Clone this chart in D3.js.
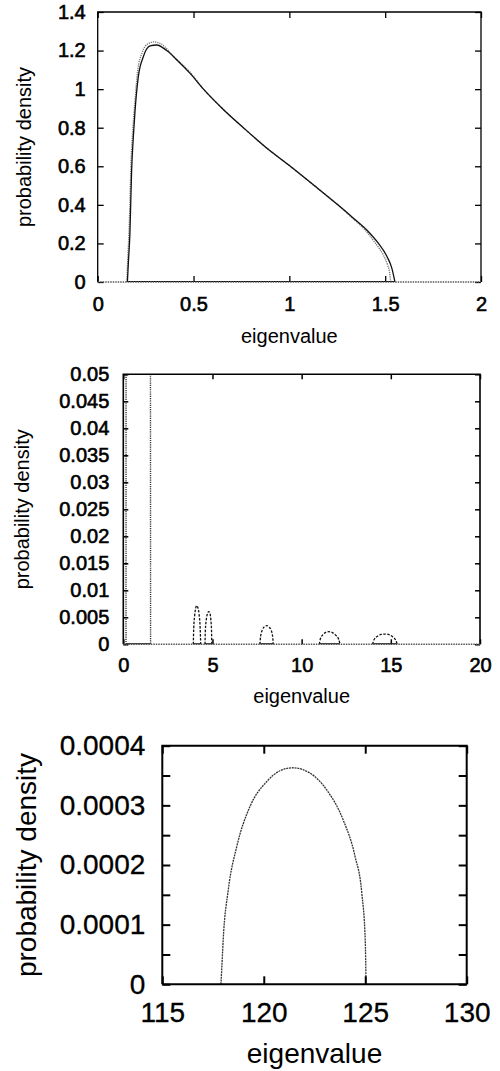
<!DOCTYPE html>
<html>
<head>
<meta charset="utf-8">
<script src="https://cdn.jsdelivr.net/npm/d3@7"></script>
<style>
  body { margin: 0; background: #fff; }
  svg { display: block; }
  text { font-family: "Liberation Sans", Arial, Helvetica, sans-serif; fill: #000; }
</style>
</head>
<body>
<svg id="chart" width="500" height="1071"></svg>
<script>
// ---- data ----
// panel 1: bulk density, two curves (solid + dotted)
const bulkX = [0.155, 0.16, 0.168, 0.177, 0.186, 0.195, 0.212, 0.238, 0.273, 0.308, 0.36, 0.42, 0.482, 0.552, 0.65, 0.76, 0.875, 1.005, 1.13, 1.253, 1.33, 1.404, 1.465, 1.51, 1.535, 1.551];
const bulkSolid = [0, 0.1, 0.25, 0.58, 0.753, 0.89, 1.065, 1.168, 1.224, 1.229, 1.2, 1.145, 1.082, 1.0, 0.9, 0.8, 0.7, 0.6, 0.5, 0.4, 0.335, 0.27, 0.2, 0.131, 0.071, 0];
const bulkDotX = [0.152, 0.157, 0.165, 0.174, 0.184, 0.194, 0.208, 0.232, 0.262, 0.293, 0.33, 0.4, 0.48, 0.552, 0.65, 0.76, 0.875, 1.005, 1.13, 1.253, 1.32, 1.39, 1.45, 1.49, 1.512, 1.523, 1.529];
const bulkDotted = [0, 0.12, 0.3, 0.62, 0.8, 0.93, 1.09, 1.19, 1.235, 1.245, 1.235, 1.165, 1.09, 1.0, 0.9, 0.8, 0.7, 0.6, 0.5, 0.4, 0.34, 0.275, 0.2, 0.14, 0.09, 0.05, 0];

// panel 2: outlier bumps
const bump1X = [3.925, 3.95, 4.0, 4.06, 4.115, 4.18, 4.25, 4.31, 4.34];
const bump1Y = [0, 0.003, 0.0053, 0.0067, 0.00715, 0.0068, 0.0055, 0.003, 0];
const bump2X = [4.58, 4.6, 4.65, 4.72, 4.79, 4.86, 4.91, 4.945, 4.96];
const bump2Y = [0, 0.0025, 0.0045, 0.0057, 0.00605, 0.0057, 0.0045, 0.0027, 0];
const bump3X = [7.66, 7.7, 7.8, 7.92, 8.04, 8.17, 8.29, 8.37, 8.41];
const bump3Y = [0, 0.0015, 0.0027, 0.0033, 0.00345, 0.0032, 0.0026, 0.0015, 0];
const bump4X = [10.99, 11.05, 11.2, 11.35, 11.52, 11.7, 11.9, 12.08, 12.15];
const bump4Y = [0, 0.001, 0.0018, 0.0022, 0.00234, 0.0022, 0.0017, 0.0009, 0];
const bump5X = [13.98, 14.05, 14.25, 14.45, 14.67, 14.9, 15.1, 15.28, 15.36];
const bump5Y = [0, 0.0008, 0.0015, 0.00182, 0.0019, 0.0018, 0.0014, 0.0007, 0];

// panel 3: largest eigenvalue
const farX = [117.89, 117.95, 118.0, 118.25, 118.67, 119.32, 120.15, 120.8, 121.43, 122.28, 123.1, 123.92, 124.5, 124.83, 125.0, 125.04];
const farY = [0, 0.00004, 0.000074, 0.000158, 0.000231, 0.000298, 0.00034, 0.000358, 0.000363, 0.000354, 0.000326, 0.000275, 0.000214, 0.000153, 0.000074, 0];

// ticks
const p1XTicks = [0, 0.5, 1, 1.5, 2];
const p1XLabels = ["0", "0.5", "1", "1.5", "2"];
const p1YTicks = [0, 0.2, 0.4, 0.6, 0.8, 1, 1.2, 1.4];
const p1YLabels = ["0", "0.2", "0.4", "0.6", "0.8", "1", "1.2", "1.4"];

const p2XTicks = [0, 5, 10, 15, 20];
const p2XLabels = ["0", "5", "10", "15", "20"];
const p2YTicks = [0, 0.005, 0.01, 0.015, 0.02, 0.025, 0.03, 0.035, 0.04, 0.045, 0.05];
const p2YLabels = ["0", "0.005", "0.01", "0.015", "0.02", "0.025", "0.03", "0.035", "0.04", "0.045", "0.05"];

const p3XTicks = [115, 120, 125, 130];
const p3XLabels = ["115", "120", "125", "130"];
const p3YTicks = [0, 0.00005, 0.0001, 0.00015, 0.0002, 0.00025, 0.0003, 0.00035, 0.0004];
const p3YLabels = ["0", "", "0.0001", "", "0.0002", "", "0.0003", "", "0.0004"];

const zip = (xs, ys) => xs.map((x, i) => ({ x: x, y: ys[i] }));

class DensityPlot {
  constructor(_config) {
    this.config = _config;
    this.initVis();
  }

  initVis() {
    let vis = this;
    const c = vis.config;

    vis.g = d3.select("#chart").append("g");
    vis.width = c.right - c.left;
    vis.height = c.bottom - c.top;
    vis.chart = vis.g.append("g").attr("transform", `translate(${c.left},${c.top})`);

    vis.xScale = d3.scaleLinear().domain(c.xDomain).range([0, vis.width]);
    vis.yScale = d3.scaleLinear().domain(c.yDomain).range([vis.height, 0]);

    const clipId = "clip-" + c.id;
    vis.chart.append("clipPath").attr("id", clipId)
      .append("rect").attr("width", vis.width).attr("height", vis.height);
    vis.plotArea = vis.chart.append("g").attr("clip-path", `url(#${clipId})`);

    // axes: ticks point inwards, mirrored on all four sides
    const ts = c.tickSize;
    const axes = [
      { a: d3.axisBottom(vis.xScale).tickValues(c.xTicks).tickFormat((d, i) => c.xLabels[i]), t: `translate(0,${vis.height})`, pad: c.xPad },
      { a: d3.axisTop(vis.xScale).tickValues(c.xTicks).tickFormat(""), t: null },
      { a: d3.axisLeft(vis.yScale).tickValues(c.yTicks).tickFormat((d, i) => c.yLabels[i]), t: null, pad: c.yPad },
      { a: d3.axisRight(vis.yScale).tickValues(c.yTicks).tickFormat(""), t: `translate(${vis.width},0)` }
    ];
    axes.forEach(ax => {
      ax.a.tickSizeInner(-ts).tickSizeOuter(0).tickPadding(ax.pad || 0);
      const grp = vis.chart.append("g").call(ax.a);
      if (ax.t) grp.attr("transform", ax.t);
      grp.select(".domain").remove();
      grp.selectAll(".tick line").attr("stroke", "#000").attr("stroke-width", c.tickWidth);
      grp.selectAll(".tick text")
        .style("font-size", c.fontSize + "px")
        .style("font-family", "'Liberation Sans', Arial, sans-serif")
        .attr("fill", "#000")
        .attr("stroke", "#000")
        .attr("stroke-width", c.fontStroke);
    });

    // frame
    vis.chart.append("path")
      .attr("d", `M0,${vis.height}V0H${vis.width}V${vis.height}`)
      .attr("fill", "none").attr("stroke", "#000").attr("stroke-width", c.frameWidth);
    vis.chart.append("line")
      .attr("x1", 0).attr("x2", vis.width).attr("y1", vis.height).attr("y2", vis.height)
      .attr("stroke", c.bottomColor).attr("stroke-width", c.frameWidth)
      .attr("stroke-dasharray", c.bottomDash);

    // axis titles
    vis.g.append("text")
      .attr("x", (c.left + c.right) / 2).attr("y", c.xTitleY)
      .attr("text-anchor", "middle")
      .style("font-size", c.titleSize + "px")
      .text("eigenvalue");
    vis.g.append("text")
      .attr("transform", `translate(${c.yTitleX},${(c.top + c.bottom) / 2}) rotate(-90)`)
      .attr("text-anchor", "middle")
      .style("font-size", c.titleSize + "px")
      .text("probability density");

    vis.renderVis();
  }

  renderVis() {
    let vis = this;
    const line = d3.line()
      .x(d => vis.xScale(d.x))
      .y(d => vis.yScale(d.y))
      .curve(d3.curveMonotoneX);

    vis.config.series.forEach(s => {
      // solid base under each curve's support
      if (s.base) {
        const ext = d3.extent(s.data, d => d.x);
        vis.plotArea.append("line")
          .attr("x1", vis.xScale(ext[0])).attr("x2", vis.xScale(ext[1]))
          .attr("y1", vis.yScale(0)).attr("y2", vis.yScale(0))
          .attr("stroke", "#000").attr("stroke-width", vis.config.frameWidth + 0.5);
      }
      vis.plotArea.append("path")
        .datum(s.data)
        .attr("d", line)
        .attr("fill", "none")
        .attr("stroke", s.color)
        .attr("stroke-width", s.width)
        .attr("stroke-dasharray", s.dash);
    });
  }
}

new DensityPlot({
  id: "p1", left: 97.7, right: 481, top: 12, bottom: 282,
  xDomain: [0, 2], yDomain: [0, 1.4],
  xTicks: p1XTicks, xLabels: p1XLabels, yTicks: p1YTicks, yLabels: p1YLabels,
  tickSize: 6, tickWidth: 1.3, frameWidth: 1.3, xPad: 15, yPad: 12,
  fontSize: 20, fontStroke: 0.6, titleSize: 20, xTitleY: 343, yTitleX: 31,
  bottomColor: "#555", bottomDash: "1.5,1",
  series: [
    { data: zip(bulkDotX, bulkDotted), color: "#777", width: 1.4, dash: "1.2,1" },
    { data: zip(bulkX, bulkSolid), color: "#111", width: 1.3, dash: null, base: true }
  ]
});

new DensityPlot({
  id: "p2", left: 123.3, right: 480, top: 374.3, bottom: 644.3,
  xDomain: [0, 20], yDomain: [0, 0.05],
  xTicks: p2XTicks, xLabels: p2XLabels, yTicks: p2YTicks, yLabels: p2YLabels,
  tickSize: 5, tickWidth: 1.5, frameWidth: 1.6, xPad: 14, yPad: 14,
  fontSize: 20, fontStroke: 0.6, titleSize: 20, xTitleY: 703, yTitleX: 29,
  bottomColor: "#555", bottomDash: "1.5,1",
  series: [
    { data: zip(bulkDotX, bulkDotted), color: "#333", width: 1.4, dash: "1.2,1", base: true },
    { data: zip(bump1X, bump1Y), color: "#111", width: 1.3, dash: "2.5,1.5", base: true },
    { data: zip(bump2X, bump2Y), color: "#111", width: 1.3, dash: "2.5,1.5", base: true },
    { data: zip(bump3X, bump3Y), color: "#111", width: 1.3, dash: "2.5,1.5", base: true },
    { data: zip(bump4X, bump4Y), color: "#111", width: 1.3, dash: "2.5,1.5", base: true },
    { data: zip(bump5X, bump5Y), color: "#111", width: 1.3, dash: "2.5,1.5", base: true }
  ]
});

new DensityPlot({
  id: "p3", left: 162.3, right: 466.7, top: 745.7, bottom: 984.3,
  xDomain: [115, 130], yDomain: [0, 0.0004],
  xTicks: p3XTicks, xLabels: p3XLabels, yTicks: p3YTicks, yLabels: p3YLabels,
  tickSize: 8, tickWidth: 2, frameWidth: 2, xPad: 18, yPad: 17,
  fontSize: 28, fontStroke: 0.3, titleSize: 28, xTitleY: 1063, yTitleX: 36,
  bottomColor: "#000", bottomDash: null,
  series: [
    { data: zip(farX, farY), color: "#333", width: 1.3, dash: "2,0.8" }
  ]
});
</script>
</body>
</html>
